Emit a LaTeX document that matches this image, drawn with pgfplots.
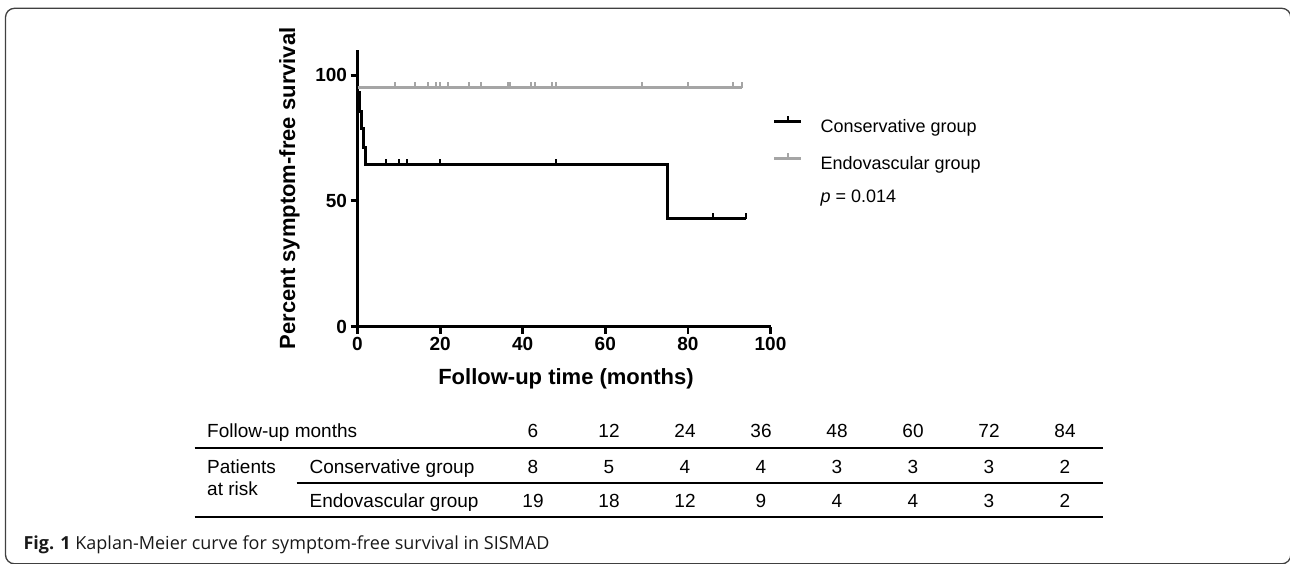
\documentclass[border=0pt]{standalone}
\usepackage{fontspec}
\setmainfont{Liberation Sans}
\newfontfamily\capfont{Open Sans}
\usepackage{pgfplots}
\pgfplotsset{compat=1.18}
\definecolor{kmgray}{RGB}{165,165,165}
\pgfdeclareplotmark{cens}{%
  \pgfpathmoveto{\pgfqpoint{0pt}{0pt}}%
  \pgfpathlineto{\pgfqpoint{0pt}{6pt}}%
  \pgfusepathqstroke}

\begin{document}
\begin{tikzpicture}[x=1pt,y=1pt]
\path[use as bounding box] (0,0) rectangle (1290,563);
\draw[line width=1.3pt, black!75, rounded corners=9pt] (5.5,-0.8) rectangle (1290.8,554.7);

\begin{axis}[
  at={(357.5pt,236.5pt)}, anchor=south west,
  scale only axis, width=413pt, height=276.5pt,
  xmin=0, xmax=100, ymin=0, ymax=110,
  axis lines=left,
  axis line style={line width=2.8pt, -},
  xtick={0,20,40,60,80,100}, ytick={0,50,100},
  tick align=outside,
  major tick length=7pt,
  every tick/.style={line width=2.8pt, black},
  tick label style={font=\fontsize{19}{19}\selectfont\bfseries},
  /pgf/number format/assume math mode=true,
  xlabel={Follow-up time (months)},
  ylabel={Percent symptom-free survival},
  label style={font=\fontsize{22}{22}\selectfont\bfseries},
  xlabel style={at={(axis description cs:0.5048,-0.19)}, anchor=center},
  ylabel style={at={(axis description cs:-0.165,0.5)}, anchor=center},
  clip=false,
  legend cell align=left,
  legend style={draw=none, fill=none, at={(axis description cs:1.0053,0.5986)}, anchor=west,
    inner sep=0pt, outer sep=0pt, row sep=16pt,
    font=\fontsize{18}{18}\selectfont,
    nodes={inner sep=0pt, text height=13pt, text depth=4pt},
    /tikz/every odd column/.append style={column sep=18pt}},
  legend image code/.code={%
    \draw[#1] (0pt,6.5pt) -- (27pt,6.5pt);
    \draw[#1, line width=2pt] (13.5pt,6.5pt) -- (13.5pt,11.5pt);},
]
\addplot[const plot, black, line width=3pt] coordinates {
  (0,100) (0.1,92.9) (0.45,85.7) (0.85,78.6) (1.4,71.4) (2.05,64.3) (75,42.9) (94,42.9)};
\addlegendentry{Conservative group}
\addplot[const plot, kmgray, line width=3pt] coordinates {(0,95) (93,95)};
\addlegendentry{Endovascular group}
\addlegendimage{empty legend}
\addlegendentry{\textit{p} = 0.014}
\addplot[only marks, mark=cens, black, mark options={line width=2pt}, forget plot] coordinates {
  (7,64.3) (10,64.3) (12,64.3) (20,64.3) (48,64.3) (86,42.9) (94,42.9)};
\addplot[only marks, mark=cens, kmgray, mark options={line width=2pt}, forget plot] coordinates {
  (9,95) (14,95) (17,95) (19,95) (20,95) (22,95) (27,95) (30,95) (36.4,95) (37,95)
  (42,95) (43,95) (47,95) (48,95) (69,95) (80,95) (91,95) (93,95)};
\end{axis}

\begin{scope}[font=\fontsize{19}{19}\selectfont]
\draw[line width=2pt] (194.6,114.7) -- (1103.4,114.7);
\draw[line width=2pt] (296.7,80.3) -- (1103.4,80.3);
\draw[line width=2pt] (194.6,45.7) -- (1103.4,45.7);
\node[anchor=base west, inner sep=0pt] at (207,125.3) {Follow-up months};
\node[anchor=base west, inner sep=0pt] at (207,90) {Patients};
\node[anchor=base west, inner sep=0pt] at (207,68) {at risk};
\node[anchor=base west, inner sep=0pt] at (309.4,90) {Conservative group};
\node[anchor=base west, inner sep=0pt] at (309.4,55.3) {Endovascular group};
\foreach \x/\a/\b/\c in {533/6/8/19, 609/12/5/18, 685/24/4/12, 761/36/4/9, 837/48/3/4, 913/60/3/4, 989/72/3/3, 1065/84/2/2} {
  \node[anchor=base, inner sep=0pt] at (\x,125.3) {\a};
  \node[anchor=base, inner sep=0pt] at (\x,90) {\b};
  \node[anchor=base, inner sep=0pt] at (\x,55.3) {\c};
}
\end{scope}
\node[anchor=base west, inner sep=0pt, font=\capfont\fontsize{18}{18}\selectfont, text=black!90] at (23.3,13.7)
  {\textbf{Fig. 1} Kaplan-Meier curve for symptom-free survival in SISMAD};
\end{tikzpicture}
\end{document}
